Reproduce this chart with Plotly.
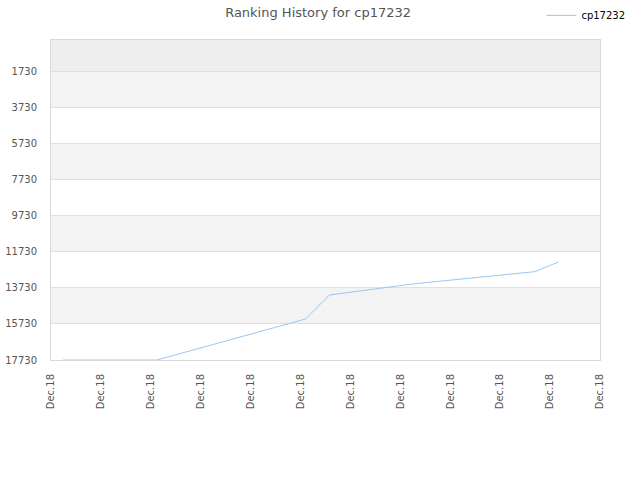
import plotly.graph_objects as go

# Data (x in tick units, y = rank)
x_pos = [0.24, 2.12, 5.10, 5.58, 7.29, 9.69, 10.17]
ranks = [17730, 17730, 15460, 14131, 13506, 12841, 12304]
x_ticks = list(range(12))
x_labels = ["Dec.18"] * 12
y_ticks = [1730, 3730, 5730, 7730, 9730, 11730, 13730, 15730, 17730]
y_labels = [str(v) for v in y_ticks]

fig = go.Figure()
fig.add_trace(go.Scatter(x=x_pos, y=ranks, mode="lines", name="cp17232",
                         line=dict(color="#99c6f3", width=1)))

# alternating bands
shapes = []
shapes.append(dict(type="rect", xref="paper", yref="y", x0=0, x1=1, y0=14, y1=1730,
                   fillcolor="#eeeeee", line_width=0, layer="below"))
for i in range(0, 8, 2):
    shapes.append(dict(type="rect", xref="paper", yref="y", x0=0, x1=1,
                       y0=y_ticks[i], y1=y_ticks[i + 1],
                       fillcolor="#f3f3f3", line_width=0, layer="below"))

fig.update_layout(
    width=640, height=480,
    margin=dict(l=51, r=40, t=40, b=120, autoexpand=False),
    paper_bgcolor="white", plot_bgcolor="white",
    font=dict(family="DejaVu Sans", size=10, color="#555555"),
    title=dict(text="Ranking History for cp17232", x=0.497, xanchor="center",
               y=0.975, yanchor="middle", font=dict(size=13, color="#555555")),
    showlegend=True,
    legend=dict(xref="container", yref="container", x=0.985, xanchor="right",
                y=0.968, yanchor="middle",
                font=dict(size=10, color="#000000"), bgcolor="rgba(0,0,0,0)",
                itemwidth=30),
    shapes=shapes,
    xaxis=dict(range=[0, 11], tickmode="array", tickvals=x_ticks, ticktext=x_labels,
               tickangle=-90, showgrid=False, zeroline=False, automargin=False,
               showline=True, linecolor="#d8d8d8", mirror=True,
               ticklabelstandoff=9,
               tickfont=dict(size=10, color="#555555")),
    yaxis=dict(range=[17730, 14], tickmode="array", tickvals=y_ticks, ticktext=y_labels,
               showgrid=True, gridcolor="#e0e0e0", zeroline=False, automargin=False,
               showline=True, linecolor="#d8d8d8", mirror=True,
               ticklabelstandoff=11,
               tickfont=dict(size=10, color="#555555")),
)

fig.write_html("out.html")
